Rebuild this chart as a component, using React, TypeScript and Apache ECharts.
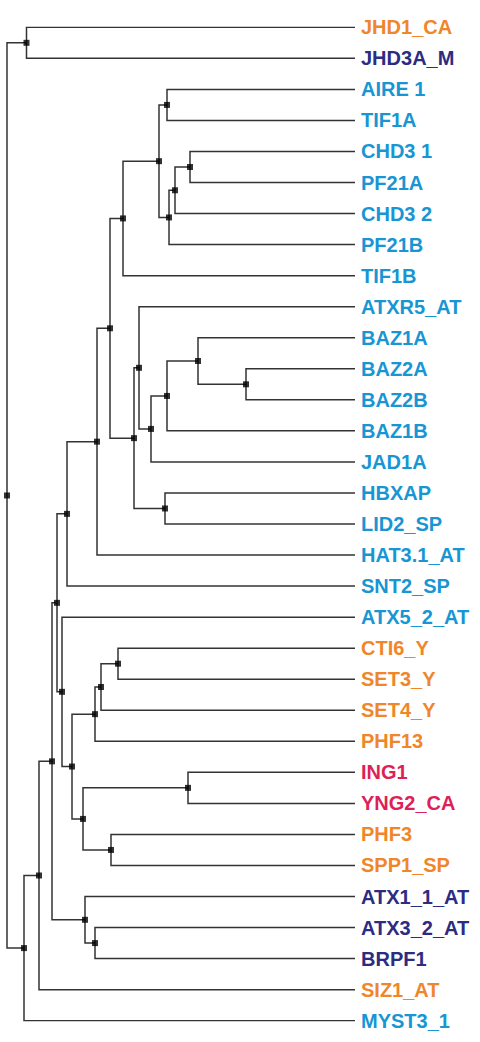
import React, { useEffect, useRef } from "react";
import * as echarts from "echarts";

// Leaf labels, top to bottom
const leaves = [
  "JHD1_CA", "JHD3A_M", "AIRE 1", "TIF1A", "CHD3 1", "PF21A", "CHD3 2", "PF21B",
  "TIF1B", "ATXR5_AT", "BAZ1A", "BAZ2A", "BAZ2B", "BAZ1B", "JAD1A", "HBXAP",
  "LID2_SP", "HAT3.1_AT", "SNT2_SP", "ATX5_2_AT", "CTI6_Y", "SET3_Y", "SET4_Y",
  "PHF13", "ING1", "YNG2_CA", "PHF3", "SPP1_SP", "ATX1_1_AT", "ATX3_2_AT",
  "BRPF1", "SIZ1_AT", "MYST3_1",
];

// Colour group of each leaf: o = orange, n = navy, b = blue, r = red
const leafGroups = [
  "o", "n", "b", "b", "b", "b", "b", "b", "b", "b", "b", "b", "b", "b", "b", "b",
  "b", "b", "b", "b", "o", "o", "o", "o", "r", "r", "o", "o", "n", "n", "n", "o", "b",
];

const groupColors: Record<string, string> = {
  o: "#F0862A",
  n: "#2B2C82",
  b: "#1896D3",
  r: "#DE1F58",
};

// Leaf tip position (all leaves aligned)
const leafHeight = 355;

// Internal nodes: [id, first child, second child, node position]
const merges: [string, string, string, number][] = [
  ["V", "AIRE 1", "TIF1A", 167],
  ["Y", "CHD3 1", "PF21A", 190],
  ["X", "Y", "CHD3 2", 175],
  ["W", "X", "PF21B", 169],
  ["U", "V", "W", 159],
  ["S", "U", "TIF1B", 123],
  ["AE", "BAZ2A", "BAZ2B", 246],
  ["AD", "BAZ1A", "AE", 198],
  ["AC", "AD", "BAZ1B", 167],
  ["AB", "AC", "JAD1A", 151],
  ["Z", "ATXR5_AT", "AB", 139],
  ["AA", "HBXAP", "LID2_SP", 165],
  ["T", "Z", "AA", 134],
  ["R", "S", "T", 110],
  ["Q", "R", "HAT3.1_AT", 97],
  ["P", "Q", "SNT2_SP", 67],
  ["M", "CTI6_Y", "SET3_Y", 118],
  ["L", "M", "SET4_Y", 101],
  ["J", "L", "PHF13", 95],
  ["N", "ING1", "YNG2_CA", 188],
  ["O", "PHF3", "SPP1_SP", 111],
  ["K", "N", "O", 83],
  ["I", "J", "K", 72],
  ["H", "ATX5_2_AT", "I", 62],
  ["E", "P", "H", 57],
  ["G", "ATX3_2_AT", "BRPF1", 95],
  ["F", "ATX1_1_AT", "G", 85],
  ["D", "E", "F", 52],
  ["C", "D", "SIZ1_AT", 39],
  ["B", "C", "MYST3_1", 24],
  ["A", "JHD1_CA", "JHD3A_M", 26.5],
  ["root", "A", "B", 7],
];

function buildTree() {
  const pos: Record<string, [number, number]> = {};
  leaves.forEach((name, i) => {
    pos[name] = [leafHeight, i];
  });
  const segments: { coords: [number, number][] }[] = [];
  const nodes: [number, number][] = [];
  merges.forEach(([id, a, b, h]) => {
    const pa = pos[a];
    const pb = pos[b];
    const y = (pa[1] + pb[1]) / 2;
    pos[id] = [h, y];
    segments.push({
      coords: [
        [pa[0], pa[1]],
        [h, pa[1]],
        [h, pb[1]],
        [pb[0], pb[1]],
      ],
    });
    nodes.push([h, y]);
  });
  return { segments, nodes };
}

export default function App() {
  const ref = useRef<HTMLDivElement>(null);
  useEffect(() => {
    if (!ref.current) return;
    const chart = echarts.init(ref.current, undefined, { renderer: "svg" });
    const { segments, nodes } = buildTree();
    const labelData = leaves.map((name, i) => ({
      value: [leafHeight, i],
      name,
      label: { color: groupColors[leafGroups[i]] },
    }));
    chart.setOption({
      animation: false,
      backgroundColor: "#ffffff",
      grid: { left: 0, right: 0, top: 27.3, bottom: 21.3 },
      xAxis: { type: "value", min: 0, max: 480, show: false },
      yAxis: { type: "value", min: 0, max: 32, inverse: true, show: false },
      series: [
        {
          type: "lines",
          coordinateSystem: "cartesian2d",
          polyline: true,
          silent: true,
          data: segments,
          lineStyle: { color: "#333333", width: 1.5, opacity: 1 },
          z: 1,
        },
        {
          type: "scatter",
          symbol: "rect",
          symbolSize: 6,
          silent: true,
          data: nodes,
          itemStyle: { color: "#000000" },
          z: 3,
        },
        {
          type: "scatter",
          symbolSize: 0,
          silent: true,
          data: labelData,
          itemStyle: { color: "#ffffff", opacity: 1 },
          label: {
            show: true,
            position: "right",
            distance: 6,
            opacity: 1,
            textBorderWidth: 0,
            textShadowBlur: 0,
            formatter: (p: any) => p.name,
            fontFamily: "Liberation Sans, Arial, sans-serif",
            fontWeight: "bold",
            fontSize: 20,
          },
          z: 4,
        },
      ],
    });
    return () => chart.dispose();
  }, []);
  return (
    <div
      ref={ref}
      style={{ position: "fixed", left: 0, top: 0, width: 480, height: 1042 }}
    />
  );
}
